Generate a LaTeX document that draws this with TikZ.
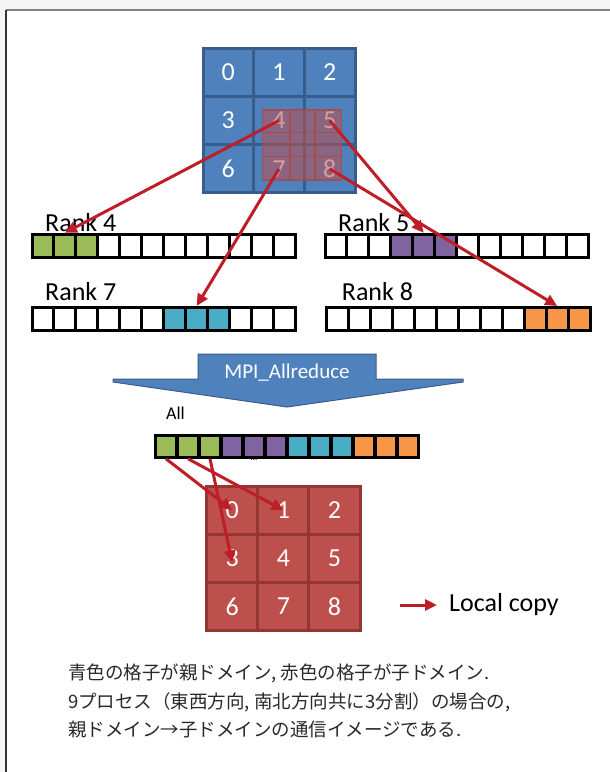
\documentclass[tikz,border=0pt]{standalone}
\usepackage{fontspec}
\setmainfont{Carlito}
\newfontfamily\jpfont{Noto Sans CJK JP}
\usepackage{tikz}
\usetikzlibrary{arrows.meta,positioning}
\definecolor{parentblue}{RGB}{79,129,189}
\definecolor{parentedge}{RGB}{56,93,138}
\definecolor{childred}{RGB}{189,79,77}
\definecolor{childedge}{RGB}{148,54,52}
\definecolor{copyred}{RGB}{190,30,40}
\definecolor{slot0}{RGB}{155,187,89}
\definecolor{slot1}{RGB}{128,100,162}
\definecolor{slot2}{RGB}{75,172,198}
\definecolor{slot3}{RGB}{247,150,70}
\definecolor{notegray}{RGB}{45,40,40}

% one buffer of 12 slots, group #4 coloured
\newcommand\rankbar[4]{%
  \foreach \i in {1,...,12}{%
    \pgfmathtruncatemacro\grp{(\i-1)/3}%
    \ifnum\grp=#4 \def\fc{slot#4}\else\def\fc{white}\fi
    \node[slot,fill=\fc] (#1c\i) at ({#2+(\i-0.5)*21.95},{#3+11.5}) {};}}

\begin{document}
\begin{tikzpicture}[x=1pt,y=-1pt,
    bcell/.style={draw=parentedge,fill=parentblue,line width=3pt,
      minimum width=50.67pt,minimum height=48.33pt,inner sep=0pt,
      text=white,font=\fontsize{26}{30}\selectfont},
    rcell/.style={bcell,draw=childedge,fill=childred,
      minimum width=51.1pt,minimum height=48.2pt},
    slot/.style={draw=black,line width=3pt,minimum width=21.95pt,
      minimum height=23pt,inner sep=0pt},
    rank/.style={anchor=base west,inner sep=0pt,font=\fontsize{26}{30}\selectfont},
    copy/.style={draw=copyred,line width=3pt,
      -{Triangle[length=12pt,width=11pt]}},
    note/.style={anchor=west,inner sep=0pt,text=notegray,
      font=\jpfont\fontsize{18.5}{22}\selectfont}]

  \useasboundingbox (0,0) rectangle (610,772);

  % page frame
  \fill[gray!8] (0,0) rectangle (610,9);
  \fill[gray!8] (0,0) rectangle (5,772);
  \draw[gray,line width=1.5pt] (610,10) -- (6,10);
  \draw[black!80,line width=1.5pt] (6,10) -- (6,772);

  % parent domain
  \foreach \n in {0,...,8}{
    \pgfmathtruncatemacro\row{\n/3}
    \pgfmathtruncatemacro\col{mod(\n,3)}
    \node[bcell] (b\n) at ({203+(\col+0.5)*50.67},{48+(\row+0.5)*48.33}) {\n};}

  % child domain seen from the parent
  \fill[childred,opacity=0.55] (262.7,110) rectangle (341.7,180);
  \draw[childred!90!black,line width=1.5pt,opacity=0.8]
    (262.7,110) rectangle (341.7,180)
    (290,110) -- (290,180) (315,110) -- (315,180)
    (262.7,132.7) -- (341.7,132.7) (262.7,156.7) -- (341.7,156.7);

  % rank buffers
  \node[rank] (lab4) at (45,231.7) {Rank 4};
  \node[rank] (lab5) at (338,231.7) {Rank 5};
  \node[rank] (lab7) at (45,300) {Rank 7};
  \node[rank] (lab8) at (341.7,300) {Rank 8};
  \rankbar{k4}{32}{234.3}{0}
  \rankbar{k5}{325}{234.3}{1}
  \rankbar{k7}{32}{307.5}{2}
  \rankbar{k8}{326.7}{307.5}{3}

  \draw[copy] (b4.center) -- (k4c2.north);
  \draw[copy] (b7.center) -- (k7c8.north);
  \draw[copy] (b5.center) -- (k5c5.north);
  \draw[copy] (b8.center) -- (k8c11.north);

  % MPI_Allreduce block arrow
  \draw[fill=parentblue,draw=parentedge,line width=1pt]
    (198,354) -- (376,354) -- (376,379) -- (463,379) -- (463,382)
    -- (287,407) -- (113,382) -- (113,379) -- (198,379) -- cycle;
  \node[text=white,font=\fontsize{21}{25}\selectfont] (mpi) at (287,373) {MPI\_Allreduce};

  % gathered buffer
  \node[anchor=west,inner sep=0pt,font=\fontsize{18}{22}\selectfont] (all) at (166,413) {All};
  \foreach \i in {1,...,12}{
    \pgfmathtruncatemacro\grp{(\i-1)/3}
    \node[slot,fill=slot\grp,minimum height=21.6pt] (a\i) at ({155+(\i-0.5)*22},446.5) {};}
  \node[inner sep=0pt,font=\fontsize{9}{9}\selectfont,anchor=south] (dots) at ([yshift=-2pt]a5.south) {...};

  % child domain
  \foreach \n in {0,...,8}{
    \pgfmathtruncatemacro\row{\n/3}
    \pgfmathtruncatemacro\col{mod(\n,3)}
    \node[rcell] (r\n) at ({206.7+(\col+0.5)*51.1},{486+(\row+0.5)*48.2}) {\n};}

  \draw[copy] (a1.south) -- (r0.center);
  \draw[copy] (a2.south) -- (r1.center);
  \draw[copy] (a3.south) -- ([yshift=-4pt]r3.center);

  % legend
  \coordinate (lgs) at (400,605);
  \node[anchor=west,inner sep=0pt,font=\fontsize{26}{30}\selectfont] (lgt) at (449,605) {Local copy};
  \draw[copy] (lgs) -- ([xshift=-12pt]lgt.west);

  % caption
  \node[note] (note1) at (68,673) {青色の格子が親ドメイン, 赤色の格子が子ドメイン.};
  \node[note] (note2) at (68,702) {9プロセス（東西方向, 南北方向共に3分割）の場合の,};
  \node[note] (note3) at (68,730) {親ドメイン→子ドメインの通信イメージである.};

\end{tikzpicture}
\end{document}
